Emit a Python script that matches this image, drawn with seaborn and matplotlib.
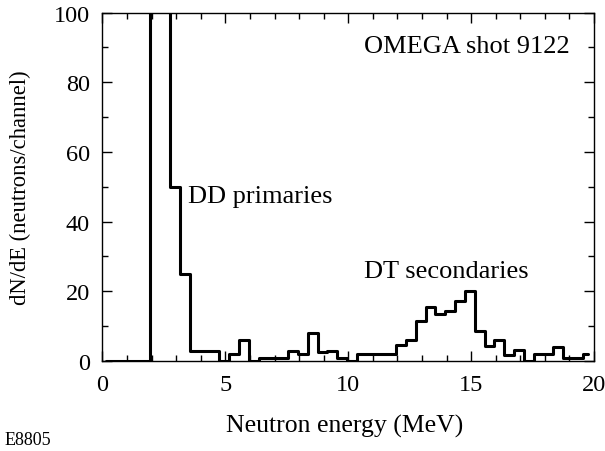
import numpy as np
import pandas as pd
import matplotlib
matplotlib.use("Agg")
import matplotlib.pyplot as plt
from matplotlib.ticker import MultipleLocator
import seaborn as sns

# Neutron time-of-flight spectrum, 0.4 MeV channels (channel centres in MeV)
energy_mev = [
    0.15, 0.55, 0.95, 1.35, 1.75, 2.15, 2.55, 2.95, 3.35, 3.75,
    4.15, 4.55, 4.95, 5.35, 5.75, 6.15, 6.55, 6.95, 7.35, 7.75,
    8.15, 8.55, 8.95, 9.35, 9.75, 10.15, 10.55, 10.95, 11.35, 11.75,
    12.15, 12.55, 12.95, 13.35, 13.75, 14.15, 14.55, 14.95, 15.35, 15.75,
    16.15, 16.55, 16.95, 17.35, 17.75, 18.15, 18.55, 18.95, 19.35, 19.75,
]
# Counts per channel (the two DD peak channels run far off scale)
counts = [
    0, 0, 0, 0, 0, 500, 350, 50, 25, 3,
    3, 3, 0, 2, 6, 0, 1, 1, 1, 3,
    2, 8, 2.5, 3, 1, 0, 2, 2, 2, 2,
    4.5, 6, 11.5, 15.5, 13.5, 14.3, 17.2, 20, 8.6, 4.2,
    6.1, 1.8, 3.2, 0, 1.9, 1.9, 4.1, 0.9, 0.9, 2,
]

x_ticks = [0, 5, 10, 15, 20]
y_ticks = [0, 20, 40, 60, 80, 100]

df = pd.DataFrame({"energy": energy_mev, "counts": counts})

sns.set_theme(style="ticks")
plt.rcParams["font.family"] = ["Liberation Serif", "DejaVu Serif"]
plt.rcParams["text.color"] = "black"
plt.rcParams["axes.labelcolor"] = "black"

fig = plt.figure(figsize=(6.05, 4.52), dpi=100)
ax = fig.add_axes([0.1694, 0.1991, 0.8124, 0.771])

sns.lineplot(data=df, x="energy", y="counts", ax=ax, color="black",
             linewidth=2.2, drawstyle="steps-mid", estimator=None)

ax.set_xlim(0, 20)
ax.set_ylim(0, 100)
ax.set_xticks(x_ticks)
ax.set_yticks(y_ticks)
ax.xaxis.set_minor_locator(MultipleLocator(1))
ax.yaxis.set_minor_locator(MultipleLocator(10))
ax.tick_params(which="both", direction="in", top=True, right=True,
               colors="black", labelsize=17.5, width=1.0)
ax.tick_params(axis="x", which="major", length=7, pad=9)
ax.tick_params(axis="y", which="major", length=7, pad=9)
ax.tick_params(which="minor", length=4)
for s in ax.spines.values():
    s.set_visible(True)
    s.set_color("black")
    s.set_linewidth(1.0)

ax.set_xlabel("Neutron energy (MeV)", fontsize=18.5)
ax.set_ylabel("dN/dE (neutrons/channel)", fontsize=16.3)
ax.xaxis.set_label_coords(0.493, -0.152)
ax.yaxis.set_label_coords(-0.146, 0.5)

ax.text(19.0, 90.5, "OMEGA shot 9122", fontsize=19, ha="right", va="center")
ax.text(3.48, 47.3, "DD primaries", fontsize=19, ha="left", va="center")
ax.text(10.64, 25.8, "DT secondaries", fontsize=19, ha="left", va="center")

fig.text(5 / 605, 1 - 441 / 452, "E8805", fontsize=13, ha="left", va="center")

fig.savefig("out.png", dpi=100, facecolor="white")
